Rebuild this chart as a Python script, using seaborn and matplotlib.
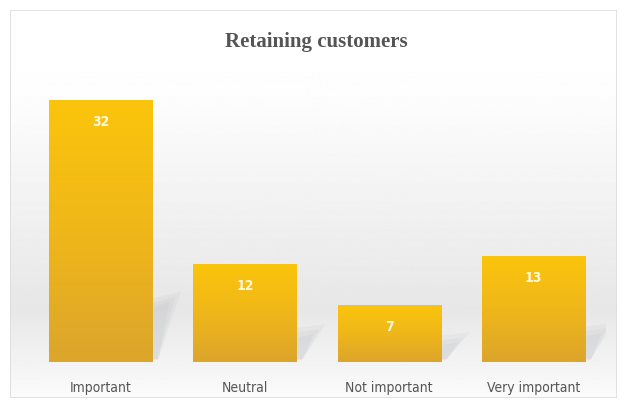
import numpy as np
import pandas as pd
import matplotlib
matplotlib.use("Agg")
import matplotlib.pyplot as plt
from matplotlib.colors import LinearSegmentedColormap
from matplotlib.patches import Rectangle
import seaborn as sns

categories = ["Important", "Neutral", "Not important", "Very important"]
values = [32, 12, 7, 13]
title = "Retaining customers"

sns.set_theme(style="white")
plt.rcParams['font.family'] = ['Liberation Sans Narrow', 'DejaVu Sans']
plt.rcParams['font.stretch'] = 'condensed'

W, H = 620, 401
fig = plt.figure(figsize=(W / 100, H / 100), dpi=100)
fig.patch.set_facecolor("white")

# background gradient panel
bg = fig.add_axes([10 / W, 3 / H, 607 / W, 388 / H], zorder=0)
bg.set_axis_off()
grad = np.concatenate([
    np.linspace(1.0, 0.995, 80),
    np.linspace(0.995, 0.905, 220),
    np.linspace(0.905, 0.985, 90),
])
bg.imshow(grad[:, None], aspect="auto", cmap="gray", vmin=0, vmax=1,
          extent=[0, 1, 0, 1])
bg.add_patch(Rectangle((0, 0), 1, 1, transform=bg.transAxes, fill=False,
                       edgecolor="#dcdcdc", lw=1.2))

# main axes: x from 28.5 to 605.5 px, y bottom 362 px, top 80 px
ax = fig.add_axes([28.5 / W, (H - 362) / H, 577 / W, 282 / H], zorder=1)
ax.patch.set_alpha(0)
df = pd.DataFrame({"category": categories, "value": values})
sns.barplot(data=df, x="category", y="value", ax=ax, color="#F2B81A",
            width=0.715, saturation=1, linewidth=0)
ymax = 282 / 8.19
ax.set_ylim(0, ymax)
ax.set_xlim(-0.5, 3.5)

cmap = LinearSegmentedColormap.from_list("gold", ["#FBC50C", "#F0B719", "#DCA52C"])
gradv = np.linspace(0, 1, 256)[:, None]
for p, v in zip(ax.patches, values):
    x0, w, h = p.get_x(), p.get_width(), p.get_height()
    # soft shadow
    for k, a in enumerate([0.10, 0.10, 0.10]):
        d = 0.04 * k
        sh = plt.Polygon([[x0 + w, 0.3], [x0 + w, h * 0.18 + 2 - k * 0.6],
                          [x0 + w + 0.2 - d, h * 0.2 + 2.2 - k * 0.6],
                          [x0 + w + 0.04, 0.3]], closed=True,
                         facecolor="#a9acb0", alpha=a, edgecolor="none", zorder=1)
        ax.add_patch(sh)
    im = ax.imshow(gradv, aspect="auto", cmap=cmap, extent=[x0, x0 + w, 0, h],
                   origin="upper", zorder=2)
    im.set_clip_path(p)
    p.set_facecolor("none")
    p.set_edgecolor("none")
    p.set_zorder(3)
    ax.text(x0 + w / 2, h - 22 / 8.19, str(v), ha="center", va="center",
            color="#fff8e0", fontsize=10, fontweight="bold", zorder=4)
ax.set_xlim(-0.5, 3.5)
ax.set_ylim(0, ymax)

ax.set_xlabel("")
ax.set_ylabel("")
ax.set_yticks([])
ax.tick_params(axis="x", length=0, pad=14, labelsize=10, labelcolor="#555555")
for s in ax.spines.values():
    s.set_visible(False)

fig.text(316 / W, 1 - 42 / H, title, ha="center", va="center",
         family=["Liberation Serif", "DejaVu Serif"], fontweight="bold",
         fontsize=15, color="#555555", fontstretch="normal")

fig.savefig("out.png", dpi=100)
